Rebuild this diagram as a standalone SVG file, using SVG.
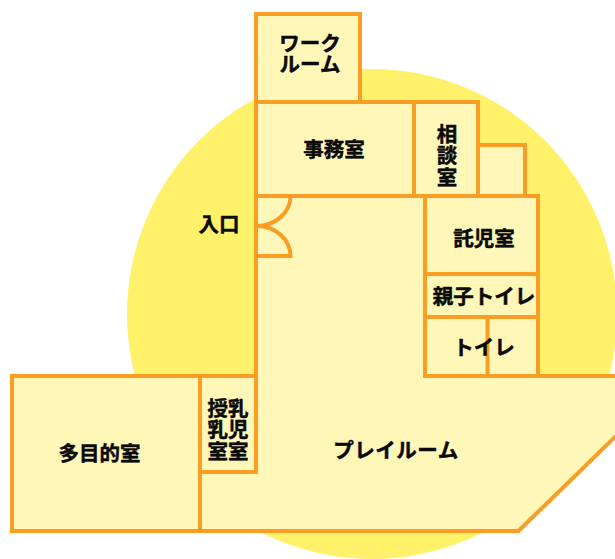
<svg xmlns="http://www.w3.org/2000/svg" width="615" height="559" viewBox="0 0 615 559">
<style>
.w{fill:#fff7b8;stroke:#f99d25;stroke-width:4;stroke-linejoin:miter}
.l{fill:none;stroke:#f99d25;stroke-width:4}
text{font-family:"Noto Sans CJK JP","Noto Sans",sans-serif;font-weight:700;font-size:20.500px;fill:#0a0a0a;stroke:#0a0a0a;stroke-width:.5;stroke-linejoin:round;text-anchor:middle}
</style>
<rect width="615" height="559" fill="#fff"/>
<circle id="bg" cx="372" cy="314" r="245" fill="#fff16a"/>
<g id="play">
<path class="w" d="M256 196H425V376H617V435L518.500 531H200V472H256Z"/>
<text x="396" y="458" letter-spacing=".5">プレイルーム</text>
</g>
<g id="work">
<rect class="w" x="256" y="14" width="104" height="88"/>
<text><tspan x="310" y="51">ワーク</tspan><tspan x="310" y="72">ルーム</tspan></text>
</g>
<g id="office">
<rect class="w" x="256" y="102" width="158" height="94"/>
<text x="334" y="157">事務室</text>
</g>
<g id="consult">
<rect class="w" x="414" y="102" width="64" height="94"/>
<text><tspan x="447" y="142">相</tspan><tspan x="447" y="163">談</tspan><tspan x="447" y="185">室</tspan></text>
</g>
<g id="closet">
<rect class="w" x="478" y="145" width="47" height="51"/>
</g>
<g id="kids">
<rect class="w" x="425" y="196" width="113" height="78"/>
<text x="484" y="246">託児室</text>
</g>
<g id="parent-toilet">
<rect class="w" x="425" y="274" width="113" height="43"/>
<text x="484" y="304">親子トイレ</text>
</g>
<g id="toilet">
<rect class="w" x="425" y="317" width="113" height="59"/>
<path class="l" d="M487.500 317V376"/>
<text x="484" y="355">トイレ</text>
</g>
<g id="multi">
<rect class="w" x="12" y="376" width="188" height="155"/>
<text x="99.500" y="461">多目的室</text>
</g>
<g id="nursing">
<rect class="w" x="200" y="376" width="56" height="96"/>
<text><tspan x="228" y="416">授乳</tspan><tspan x="228" y="437">乳児</tspan><tspan x="228" y="459">室室</tspan></text>
</g>
<g id="entrance">
<text x="219" y="232">入口</text>
</g>
<g id="connectors">
<path class="l" d="M256 226A34 30 0 0 0 290.500 196"/>
<path class="l" d="M256 226A34 30 0 0 1 290.500 256H256"/>
</g>
</svg>
